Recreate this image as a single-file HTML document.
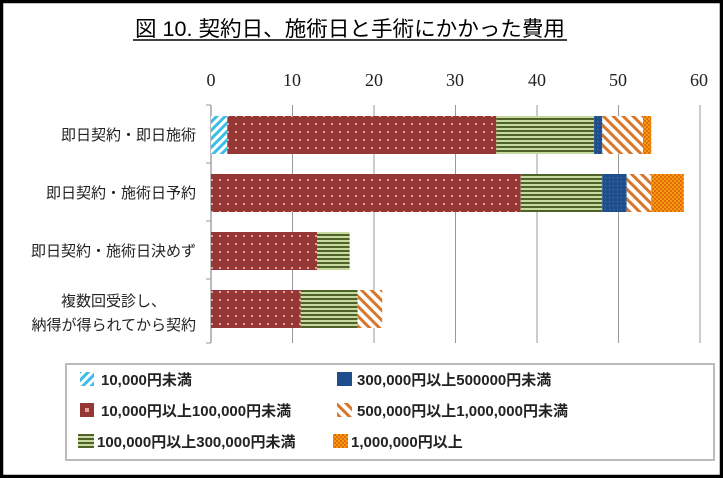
<!DOCTYPE html>
<html><head><meta charset="utf-8"><style>
body{margin:0;background:#fff}
</style></head><body>
<svg width="723" height="478" xmlns="http://www.w3.org/2000/svg" style="display:block">
<defs>
<pattern id="cyan" width="6" height="6" patternUnits="userSpaceOnUse" patternTransform="rotate(45)"><rect width="6" height="6" fill="#fff"/><rect width="3" height="6" fill="#3bbde8"/></pattern>
<pattern id="red" width="8" height="8" patternUnits="userSpaceOnUse"><rect width="8" height="8" fill="#953735"/><rect x="3" y="3" width="2" height="2" fill="#e6a0a0"/></pattern>
<pattern id="green" width="4" height="4" patternUnits="userSpaceOnUse"><rect width="4" height="4" fill="#c6d9a0"/><rect y="2" width="4" height="2" fill="#4f6228"/></pattern>
<pattern id="blue" width="4" height="4" patternUnits="userSpaceOnUse"><rect width="4" height="4" fill="#1f4e8c"/><rect x="1" y="1" width="1" height="1" fill="#4a78b0"/></pattern>
<pattern id="ostripe" width="7" height="7" patternUnits="userSpaceOnUse" patternTransform="rotate(-45)"><rect width="7" height="7" fill="#fff"/><rect width="3" height="7" fill="#d9762a"/></pattern>
<pattern id="orange" width="4" height="4" patternUnits="userSpaceOnUse"><rect width="4" height="4" fill="#f39c12"/><rect width="2" height="2" fill="#e46c0a"/><rect x="2" y="2" width="2" height="2" fill="#e46c0a"/></pattern>
</defs>
<rect x="1.5" y="1.5" width="720" height="475" fill="#fff" stroke="#000" stroke-width="3.5"/>
<text x="135" y="36" textLength="430" lengthAdjust="spacingAndGlyphs" font-family="Liberation Sans, Noto Sans CJK JP, sans-serif" font-size="21">図 10.  契約日、施術日と手術にかかった費用</text>
<line x1="133" y1="40" x2="567" y2="40" stroke="#000" stroke-width="1.5"/>
<g font-family="Liberation Serif, serif" font-size="18" text-anchor="middle" fill="#222">
<text x="211" y="86">0</text><text x="292" y="86">10</text><text x="374" y="86">20</text><text x="455" y="86">30</text><text x="537" y="86">40</text><text x="618" y="86">50</text><text x="699" y="86">60</text>
</g>
<g stroke="#999" stroke-width="1">
<line x1="292.5" y1="105" x2="292.5" y2="343"/><line x1="374" y1="105" x2="374" y2="343"/><line x1="455.5" y1="105" x2="455.5" y2="343"/><line x1="537" y1="105" x2="537" y2="343"/><line x1="618.5" y1="105" x2="618.5" y2="343"/><line x1="700" y1="105" x2="700" y2="343"/>
<line x1="211" y1="105" x2="211" y2="343" stroke="#777"/>
<line x1="206" y1="105" x2="211" y2="105"/><line x1="206" y1="163" x2="211" y2="163"/><line x1="206" y1="221" x2="211" y2="221"/><line x1="206" y1="279" x2="211" y2="279"/><line x1="206" y1="343" x2="211" y2="343"/>
</g>
<rect x="211" y="116" width="16.3" height="38" fill="url(#cyan)"/>
<rect x="227.3" y="116" width="269" height="38" fill="url(#red)"/>
<rect x="496.3" y="116" width="97.8" height="38" fill="url(#green)"/>
<rect x="594.1" y="116" width="8.2" height="38" fill="url(#blue)"/>
<rect x="602.3" y="116" width="40.7" height="38" fill="url(#ostripe)"/>
<rect x="643" y="116" width="8.2" height="38" fill="url(#orange)"/>
<rect x="211" y="174" width="309.7" height="38" fill="url(#red)"/>
<rect x="520.7" y="174" width="81.5" height="38" fill="url(#green)"/>
<rect x="602.2" y="174" width="24.5" height="38" fill="url(#blue)"/>
<rect x="626.7" y="174" width="24.5" height="38" fill="url(#ostripe)"/>
<rect x="651.2" y="174" width="32.6" height="38" fill="url(#orange)"/>
<rect x="211" y="232" width="106" height="38" fill="url(#red)"/>
<rect x="317" y="232" width="32.6" height="38" fill="url(#green)"/>
<rect x="211" y="290" width="89.7" height="38" fill="url(#red)"/>
<rect x="300.7" y="290" width="57" height="38" fill="url(#green)"/>
<rect x="357.7" y="290" width="24.5" height="38" fill="url(#ostripe)"/>
<g font-family="Liberation Sans, Noto Sans CJK JP, sans-serif" font-size="15" text-anchor="end" fill="#222">
<text x="196" y="140">即日契約・即日施術</text>
<text x="196" y="198">即日契約・施術日予約</text>
<text x="196" y="256">即日契約・施術日決めず</text>
<text x="166" y="306">複数回受診し、</text>
<text x="196" y="330">納得が得られてから契約</text>
</g>
<rect x="66" y="364" width="648" height="96" fill="#fff" stroke="#bbb" stroke-width="2"/>
<g font-family="Liberation Sans, Noto Sans CJK JP, sans-serif" font-size="15" font-weight="bold" fill="#222">
<rect x="80" y="372" width="14" height="14" fill="url(#cyan)"/><text x="101" y="385">10,000円未満</text>
<rect x="80" y="403" width="14" height="14" fill="#953735"/><rect x="85" y="408" width="4" height="4" fill="#e6a0a0"/><text x="101" y="416">10,000円以上100,000円未満</text>
<rect x="78" y="434" width="16" height="14" fill="url(#green)"/><text x="97" y="447">100,000円以上300,000円未満</text>
<rect x="337" y="372" width="15" height="14" fill="#1f4e8c"/><text x="357" y="385">300,000円以上500000円未満</text>
<rect x="337" y="403" width="15" height="14" fill="url(#ostripe)"/><text x="357" y="416">500,000円以上1,000,000円未満</text>
<rect x="333" y="434" width="15" height="14" fill="url(#orange)"/><text x="351" y="447">1,000,000円以上</text>
</g>
</svg>
</body></html>
